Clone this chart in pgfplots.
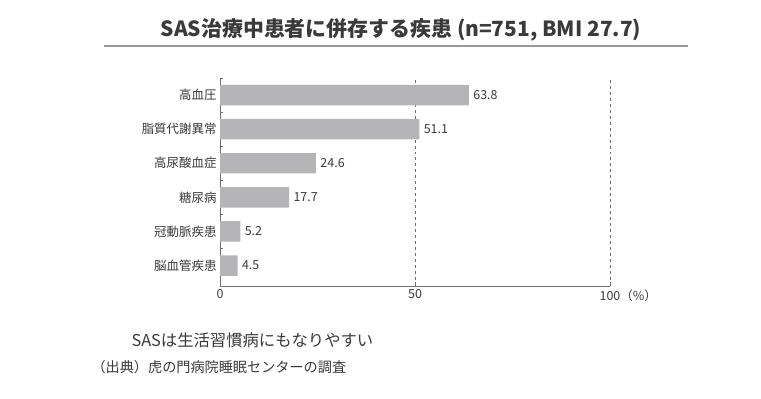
\documentclass[border=0pt]{standalone}
\usepackage{fontspec}
\setmainfont{Noto Sans CJK JP}
\usepackage{pgfplots}
\pgfplotsset{compat=1.18}
\definecolor{barc}{HTML}{B5B5B7}
\definecolor{txt}{HTML}{3A3A3A}
\definecolor{axc}{HTML}{707070}
\begin{document}
\begin{tikzpicture}[x=1bp,y=1bp]
\useasboundingbox (0,0) rectangle (761,398);
\node[text=txt,font=\fontsize{21}{24}\selectfont\bfseries] at (401,368) {SAS治療中患者に併存する疾患 (n=751, BMI 27.7)};
\draw[line width=2bp,color=black!40] (104,352.5) -- (688,352.5);
\begin{axis}[
  at={(220bp,112bp)}, anchor=south west,
  scale only axis, width=390bp, height=208bp,
  xbar, bar width=0.6,
  xmin=0, xmax=100, ymin=-0.6, ymax=5.5,
  axis x line*=bottom, axis y line*=left,
  axis line style={axc, line width=0.8pt},
  xtick={0,50,100},
  xticklabels={0,50,100\rlap{（\%）}},
  x tick label style={font=\fontsize{12.5}{14}\selectfont, text=txt},
  ytick={0,1,2,3,4,5},
  yticklabels={脳血管疾患,冠動脈疾患,糖尿病,高尿酸血症,脂質代謝異常,高血圧},
  y tick label style={font=\fontsize{12.5}{14}\selectfont, text=txt},
  major tick length=0pt,
  minor ytick={0.5,1.5,2.5,3.5,4.5,5.5},
  minor tick length=3bp,
  minor tick style={axc, line width=0.7pt},
  xmajorgrids, grid style={axc, dashed, line width=0.6pt},
  extra x ticks={50,100}, extra x tick labels={},
  extra x tick style={major tick length=4bp, tick style={axc,line width=0.7pt}, grid=none},
  /pgf/number format/assume math mode=true,
  nodes near coords,
  nodes near coords style={anchor=west, font=\fontsize{12.5}{14}\selectfont, text=txt, xshift=1bp},
  point meta=explicit symbolic,
  tick align=inside,
  clip=false,
]
\addplot[fill=barc, draw=none] coordinates {
 (4.5,0) [4.5]
 (5.2,1) [5.2]
 (17.7,2) [17.7]
 (24.6,3) [24.6]
 (51.1,4) [51.1]
 (63.8,5) [63.8]
};
\end{axis}
\node[anchor=west,text=txt,font=\fontsize{16.4}{19}\selectfont] at (128,58) {SASは生活習慣病にもなりやすい};
\node[anchor=west,text=txt,font=\fontsize{14.2}{16}\selectfont] at (88,31) {（出典）虎の門病院睡眠センターの調査};
\end{tikzpicture}
\end{document}
